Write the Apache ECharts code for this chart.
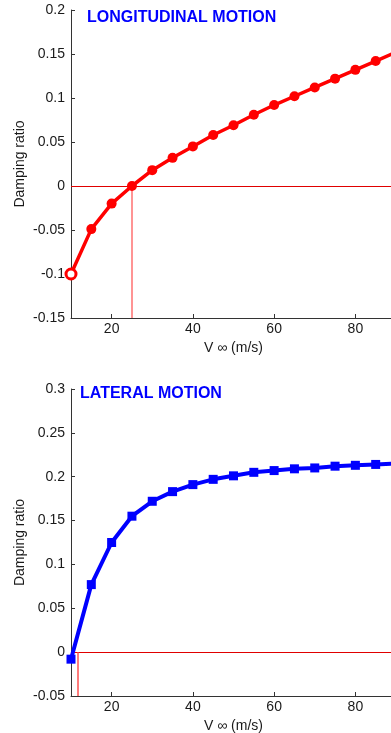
<!DOCTYPE html>
<html>
<head>
<meta charset="utf-8">
<script src="https://cdn.jsdelivr.net/npm/echarts@6/dist/echarts.min.js"></script>
<style>
html,body{margin:0;padding:0;background:#fff;}
#c{width:391px;height:733px;}
</style>
</head>
<body>
<div id="c"></div>
<script>
// ---- data ----
const speeds = [10, 15, 20, 25, 30, 35, 40, 45, 50, 55, 60, 65, 70, 75, 80, 85, 90];
const longitudinalDamping = [-0.1, -0.049, -0.02, 0, 0.018, 0.032, 0.045, 0.058, 0.069, 0.081, 0.092, 0.102, 0.112, 0.122, 0.132, 0.142, 0.152];
const lateralDamping = [-0.008, 0.077, 0.125, 0.155, 0.172, 0.183, 0.191, 0.197, 0.201, 0.205, 0.207, 0.209, 0.210, 0.212, 0.213, 0.214, 0.215];
const xTicks = [20, 40, 60, 80];
const longCrossSpeed = 25;
const latCrossSpeed = 11.6;
const longTitle = 'LONGITUDINAL MOTION';
const latTitle = 'LATERAL MOTION';
const yName = 'Damping ratio';
const xName = 'V \u221e (m/s)';

const FONT = '"Liberation Sans", Arial, sans-serif';
const axisCol = '#333';
const txtCol = '#1a1a1a';

function xAxisCfg(gi) {
  return {
    type: 'value', gridIndex: gi, min: 10, max: 90,
    name: xName, nameLocation: 'middle', nameGap: 23, nameMoveOverlap: false,
    nameTextStyle: {color: txtCol, fontFamily: FONT, fontSize: 14},
    axisLine: {show: true, onZero: false, lineStyle: {color: axisCol, width: 1}},
    axisTick: {show: true, inside: true, length: 4, customValues: xTicks, lineStyle: {color: axisCol}},
    axisLabel: {customValues: xTicks, margin: 4, color: txtCol, fontFamily: FONT, fontSize: 14},
    splitLine: {show: false}
  };
}
function yAxisCfg(gi, mn, mx) {
  return {
    type: 'value', gridIndex: gi, min: mn, max: mx, interval: 0.05,
    name: yName, nameLocation: 'middle', nameGap: 44, nameRotate: 90, nameMoveOverlap: false,
    nameTextStyle: {color: txtCol, fontFamily: FONT, fontSize: 14},
    axisLine: {show: true, onZero: false, lineStyle: {color: axisCol, width: 1}},
    axisTick: {show: true, inside: true, length: 4, lineStyle: {color: axisCol}},
    axisLabel: {margin: 6, color: txtCol, fontFamily: FONT, fontSize: 14,
      formatter: v => String(parseFloat(v.toFixed(2)))},
    splitLine: {show: false}
  };
}

const longData = speeds.map((s, i) => {
  const p = {value: [s, longitudinalDamping[i]]};
  if (i === 0) p.itemStyle = {color: '#fff', borderColor: '#ff0000', borderWidth: 3};
  return p;
});
const latData = speeds.map((s, i) => [s, lateralDamping[i]]);

const chart = echarts.init(document.getElementById('c'), null, {renderer: 'canvas'});
chart.setOption({
  animation: false,
  backgroundColor: '#fff',
  title: [
    {text: longTitle, left: 87, top: 10, padding: 0, textStyle: {color: '#0000ff', fontWeight: 'bold', fontSize: 16, fontFamily: FONT}},
    {text: latTitle, left: 80, top: 386, padding: 0, textStyle: {color: '#0000ff', fontWeight: 'bold', fontSize: 16, fontFamily: FONT}}
  ],
  grid: [
    {left: 71, top: 10, width: 325, height: 308, containLabel: false, outerBoundsMode: 'none'},
    {left: 71, top: 389, width: 325, height: 307, containLabel: false, outerBoundsMode: 'none'}
  ],
  xAxis: [xAxisCfg(0), xAxisCfg(1)],
  yAxis: [yAxisCfg(0, -0.15, 0.2), yAxisCfg(1, -0.05, 0.3)],
  series: [
    {
      type: 'line', xAxisIndex: 0, yAxisIndex: 0, data: longData,
      symbol: 'circle', symbolSize: 10, z: 5,
      lineStyle: {color: '#ff0000', width: 3.5},
      itemStyle: {color: '#ff0000'},
      markLine: {
        silent: true, symbol: 'none', z: 2, label: {show: false},
        data: [
          {yAxis: 0, lineStyle: {color: '#e00000', width: 1, type: 'solid'}},
          [{coord: [longCrossSpeed, 0]}, {coord: [longCrossSpeed, -0.15], lineStyle: {color: '#ff7070', width: 1.5, type: 'solid'}}]
        ]
      }
    },
    {
      type: 'line', xAxisIndex: 1, yAxisIndex: 1, data: latData,
      symbol: 'rect', symbolSize: 9, z: 5,
      lineStyle: {color: '#0000ff', width: 4},
      itemStyle: {color: '#0000ff'},
      markLine: {
        silent: true, symbol: 'none', z: 2, label: {show: false},
        data: [
          {yAxis: 0, lineStyle: {color: '#e00000', width: 1, type: 'solid'}},
          [{coord: [latCrossSpeed, 0]}, {coord: [latCrossSpeed, -0.05], lineStyle: {color: '#ff5050', width: 1.5, type: 'solid'}}]
        ]
      }
    }
  ]
});
</script>
</body>
</html>
